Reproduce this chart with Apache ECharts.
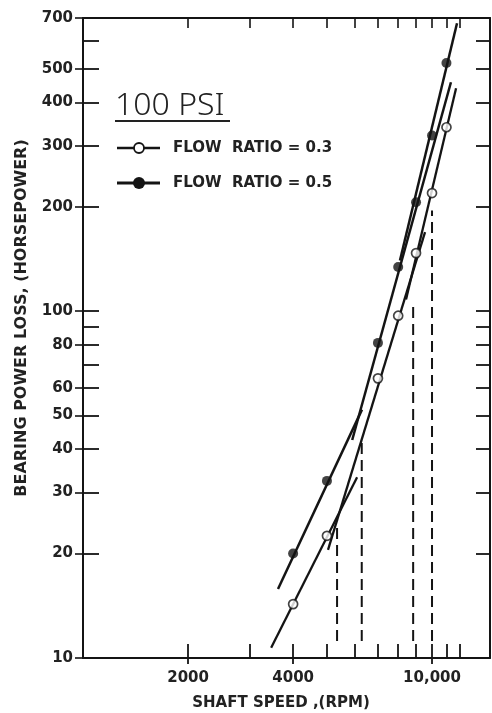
<!DOCTYPE html>
<html><head><meta charset="utf-8">
<script src="https://cdn.jsdelivr.net/npm/echarts@6/dist/echarts.min.js"></script>
<style>html,body{margin:0;padding:0;background:#fff}#c{width:492px;height:713px}</style>
</head><body><div id="c"></div>
<script>
// ---- data ----
const speedRpm = [4000, 5000, 7000, 8000, 9000, 10000, 11000];
const lossFlow03 = [14.3, 22.5, 64, 97, 147, 219, 339];
const lossFlow05 = [20, 32.4, 81, 134, 206, 321, 519];
// hand-drawn fit segments: [startRpm, startHp, endRpm, endHp]
const fitFlow03 = [[3460, 10.7, 6100, 33.2], [5035, 20.5, 9550, 169], [8425, 108, 11720, 439]];
const fitFlow05 = [[3620, 15.8, 6300, 52], [5906, 42.5, 11330, 457], [8093, 140, 11793, 676]];
// dashed drop lines
const dropRpm = [5345, 6290, 8830, 10000];
const dropTopHp = [24.5, 42.5, 102.7, 195];
const dropBottomHp = [11.2, 11.2, 11.2, 11.2];
// axes
const xRange = [1000, 14660];
const yRange = [10, 700];
const xTickVals = [2000, 3000, 4000, 5000, 6000, 7000, 8000, 9000, 10000, 11000, 12000];
const xLabelVals = [2000, 4000, 10000];
const yTickVals = [20, 30, 40, 50, 60, 70, 80, 90, 100, 200, 300, 400, 500, 600];
const yLabelVals = [10, 20, 30, 40, 50, 60, 80, 100, 200, 300, 400, 500, 700];

const L = Math.log10;
const INK = '#141414';
const FONT = '"DejaVu Sans", sans-serif';
const fmt = v => { const n = Math.round(Math.pow(10, v)); return n >= 10000 ? n.toLocaleString('en-US') : String(n); };

const series = [];
function seg(s, w) {
  series.push({ type: 'line', xAxisIndex: 0, yAxisIndex: 0, symbol: 'none', silent: true, z: 3,
    data: [[L(s[0]), L(s[1])], [L(s[2]), L(s[3])]],
    lineStyle: { color: INK, width: w } });
}
fitFlow03.forEach(s => seg(s, 2.3));
fitFlow05.forEach(s => seg(s, 2.5));
dropRpm.forEach((r, i) => {
  series.push({ type: 'line', symbol: 'none', silent: true, z: 2,
    data: [[L(r), L(dropBottomHp[i])], [L(r), L(dropTopHp[i])]],
    lineStyle: { color: INK, width: 2, type: [11, 6] } });
});
series.push({ type: 'scatter', name: 'FLOW RATIO = 0.3', symbol: 'circle', symbolSize: 9, z: 5,
  data: speedRpm.map((s, i) => [L(s), L(lossFlow03[i])]),
  itemStyle: { color: '#fff', borderColor: INK, borderWidth: 1.7 } });
series.push({ type: 'scatter', name: 'FLOW RATIO = 0.5', symbol: 'circle', symbolSize: 10, z: 5,
  data: speedRpm.map((s, i) => [L(s), L(lossFlow05[i])]),
  itemStyle: { color: INK } });

const axLine = { show: true, lineStyle: { color: INK, width: 2 } };
const xBase = { type: 'value', min: L(xRange[0]), max: L(xRange[1]), splitLine: { show: false } };
const yBase = { type: 'value', min: L(yRange[0]), max: L(yRange[1]), splitLine: { show: false } };
const labelStyle = { fontFamily: FONT, fontSize: 15, fontWeight: 'bold', color: '#222' };

const option = {
  animation: false,
  backgroundColor: '#fff',
  grid: { left: 83, right: 2, top: 18, bottom: 55, containLabel: false },
  xAxis: [
    Object.assign({}, xBase, { position: 'bottom', axisLine: axLine,
      axisTick: { inside: true, length: 14, customValues: xTickVals.map(L), lineStyle: { color: INK, width: 1.8 } },
      axisLabel: Object.assign({ customValues: xLabelVals.map(L), formatter: fmt, margin: 13 }, labelStyle) }),
    Object.assign({}, xBase, { position: 'top', axisLine: axLine,
      axisTick: { inside: true, length: 10, customValues: xTickVals.map(L), lineStyle: { color: INK, width: 1.6 } },
      axisLabel: { show: false } }),
    Object.assign({}, xBase, { position: 'bottom', axisLine: { show: false },
      axisTick: { inside: false, length: 6, customValues: xLabelVals.map(L), lineStyle: { color: INK, width: 1.8 } },
      axisLabel: { show: false } })
  ],
  yAxis: [
    Object.assign({}, yBase, { position: 'left', axisLine: axLine,
      axisTick: { inside: true, length: 16, customValues: yTickVals.map(L), lineStyle: { color: INK, width: 1.8 } },
      axisLabel: Object.assign({ customValues: yLabelVals.map(L), formatter: fmt, margin: 10 }, labelStyle) }),
    Object.assign({}, yBase, { position: 'right', axisLine: axLine,
      axisTick: { inside: true, length: 14, customValues: yTickVals.map(L), lineStyle: { color: INK, width: 1.8 } },
      axisLabel: { show: false } }),
    Object.assign({}, yBase, { position: 'left', axisLine: { show: false },
      axisTick: { inside: false, length: 8, customValues: yLabelVals.map(L), lineStyle: { color: INK, width: 1.6 } },
      axisLabel: { show: false } })
  ],
  series: series,
  graphic: [
    { type: 'text', x: 22, y: 318, rotation: Math.PI / 2,
      style: { text: 'BEARING POWER LOSS, (HORSEPOWER)', font: 'bold 16px ' + FONT, fill: '#222', align: 'center', verticalAlign: 'middle' } },
    { type: 'text', x: 281, y: 703,
      style: { text: 'SHAFT SPEED ,(RPM)', font: 'bold 15px ' + FONT, fill: '#222', align: 'center', verticalAlign: 'middle' } },
    { type: 'text', x: 115, y: 106,
      style: { text: '100 PSI', font: '300 32px "Noto Sans", sans-serif', fill: '#222', align: 'left', verticalAlign: 'middle' } },
    { type: 'rect', shape: { x: 115, y: 120, width: 115, height: 2 }, style: { fill: '#222' } },
    { type: 'line', shape: { x1: 117, y1: 148, x2: 160, y2: 148 }, style: { stroke: INK, lineWidth: 2.4 } },
    { type: 'circle', shape: { cx: 139, cy: 148, r: 5 }, style: { fill: '#fff', stroke: INK, lineWidth: 1.8 } },
    { type: 'text', x: 173, y: 148, style: { text: 'FLOW  RATIO = 0.3', font: 'bold 15px ' + FONT, fill: '#222', align: 'left', verticalAlign: 'middle' } },
    { type: 'line', shape: { x1: 117, y1: 183, x2: 160, y2: 183 }, style: { stroke: INK, lineWidth: 2.8 } },
    { type: 'circle', shape: { cx: 139, cy: 183, r: 6 }, style: { fill: INK } },
    { type: 'text', x: 173, y: 183, style: { text: 'FLOW  RATIO = 0.5', font: 'bold 15px ' + FONT, fill: '#222', align: 'left', verticalAlign: 'middle' } }
  ]
};
const chart = echarts.init(document.getElementById('c'), null, { renderer: 'canvas' });
chart.setOption(option);
</script>
</body></html>
